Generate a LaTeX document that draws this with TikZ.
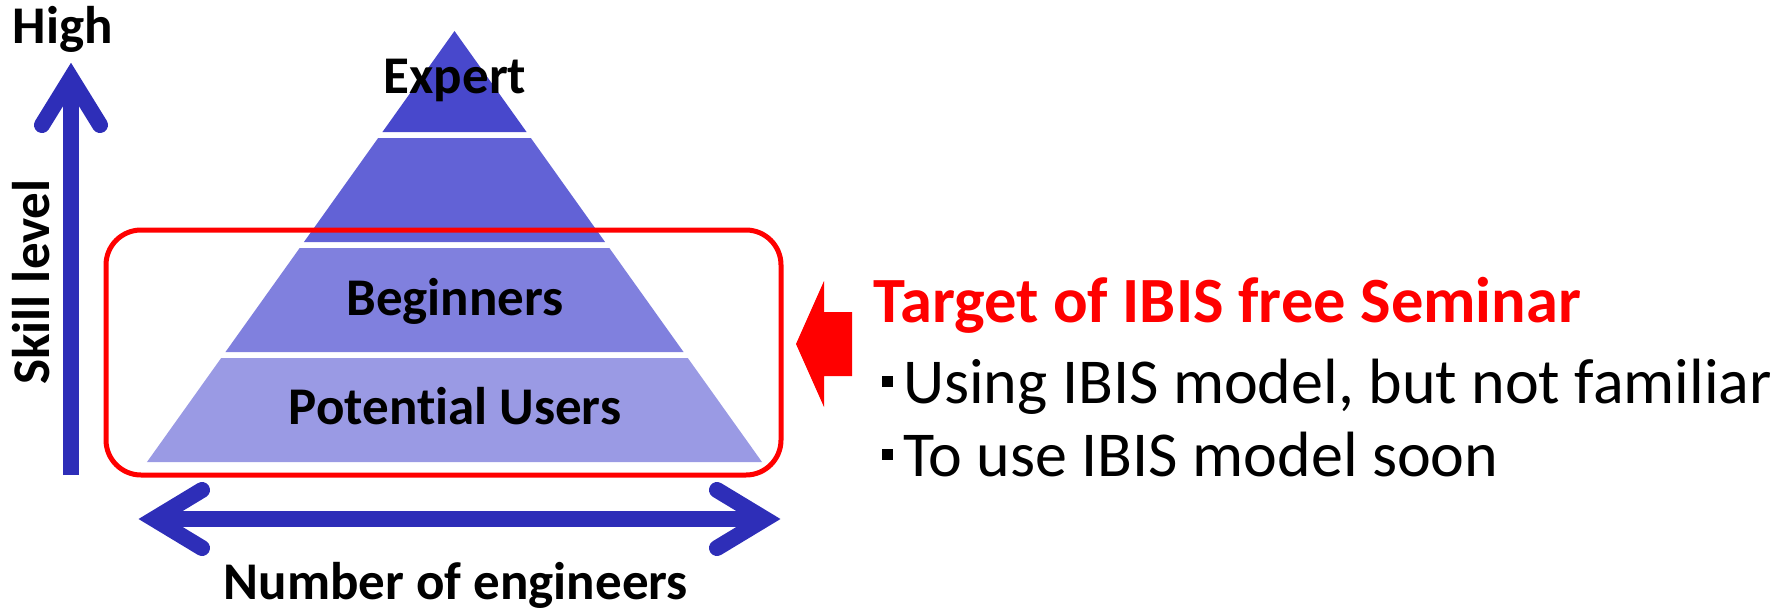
\documentclass[tikz,border=0pt]{standalone}
\usepackage{fontspec}
\setmainfont{Carlito}[Ligatures=NoCommon]
\usetikzlibrary{positioning,calc}
\definecolor{layone}{RGB}{72,72,204}
\definecolor{laytwo}{RGB}{98,98,214}
\definecolor{laythree}{RGB}{128,128,222}
\definecolor{layfour}{RGB}{154,154,228}
\definecolor{axisblue}{RGB}{46,46,184}
\newcommand{\itemsq}{\rule[16pt]{11pt}{11pt}\hspace{10pt}}

\begin{document}
\begin{tikzpicture}[
  x=1pt,y=-1pt,
  lbl/.style={font=\fontsize{53}{62}\selectfont\bfseries,inner sep=0pt},
  title/.style={font=\fontsize{64.5}{74}\selectfont\bfseries,text=red,inner sep=0pt,anchor=base west},
  itemtext/.style={font=\fontsize{64}{74}\selectfont,inner sep=0pt,anchor=base west},
  targetbox/.style={draw=red,line width=5pt,rounded corners=35pt,inner sep=0pt,minimum width=675pt,minimum height=245pt},
  shaft/.style={draw=axisblue,line width=16pt,line cap=butt},
  barb/.style={draw=axisblue,line width=16pt,line cap=round,line join=miter}
]
\useasboundingbox (0,0) rectangle (1788,610);
% pyramid
\foreach \ytop/\ybot/\col in {31/132/layone,138/242/laytwo,248/352/laythree,358/462/layfour}
  \fill[\col] ({454.5-0.7135*(\ytop-31)},\ytop) -- ({454.5+0.7135*(\ytop-31)},\ytop)
    -- ({454.5+0.7135*(\ybot-31)},\ybot) -- ({454.5-0.7135*(\ybot-31)},\ybot) -- cycle;
\node[lbl,anchor=base] (expert) at (455,93) {Expert};
\node[lbl,anchor=base] (beginners) at (455,315) {Beginners};
\node[lbl,anchor=base] (potential) at (455,424) {Potential Users};
\node[targetbox] (box) at (443.5,352.5) {};
% axes
\coordinate (vbot) at (71,475);
\coordinate (vtip) at (71,78);
\draw[shaft] (vbot) -- (vtip);
\draw[barb] ($(vtip)+(-29,47)$) -- (vtip) -- ($(vtip)+(29,47)$);
\coordinate (hleft) at (154,519);
\coordinate (hright) at (765,519);
\draw[shaft] (hleft) -- (hright);
\draw[barb] ($(hleft)+(48,-29)$) -- (hleft) -- ($(hleft)+(48,29)$);
\draw[barb] ($(hright)+(-48,-29)$) -- (hright) -- ($(hright)+(-48,29)$);
\node[lbl,anchor=base] (high) at (63,44) {High};
\node[lbl,anchor=base,rotate=90] (skill) at (49,282) {Skill level};
\node[lbl,anchor=base] (number) at (456,599) {Number of engineers};
% seminar target
\fill[red] (796,344) -- (824,281) -- (824,312) -- (852,312) -- (852,376) -- (824,376) -- (824,407) -- cycle;
\node[title] (target) at (873,322) {Target of IBIS free Seminar};
\node[itemtext] (using) at (882,403) {\itemsq Using IBIS model, but not familiar};
\node[itemtext] (touse) at (882,476) {\itemsq To use IBIS model soon};
\end{tikzpicture}
\end{document}
